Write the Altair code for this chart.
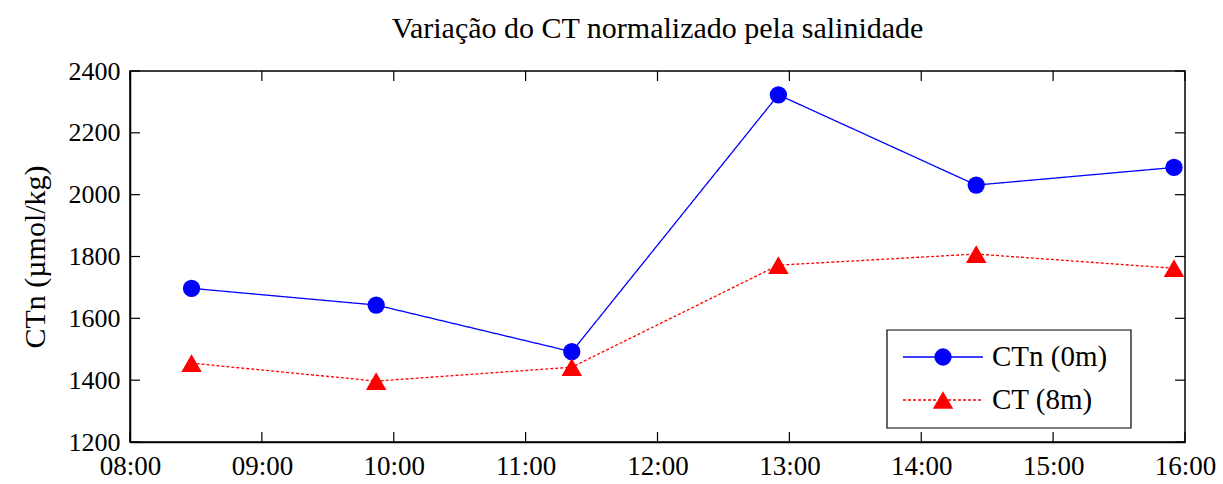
import altair as alt
import pandas as pd

# Sampling times and carbon values for the two depths
times = ["08:28", "09:52", "11:21", "12:55", "14:25", "15:55"]
ctn_0m = [1697, 1643, 1492, 2323, 2031, 2088]
ct_8m = [1455, 1397, 1442, 1772, 1808, 1762]

series_names = ["CTn (0m)", "CT (8m)"]
series_colors = ["#0000FF", "#FF0000"]
series_shapes = ["circle", "triangle-up"]
series_sizes = [300, 420]
series_dash = [[1, 0], [3, 2]]

x_ticks = [8, 9, 10, 11, 12, 13, 14, 15, 16]
y_ticks = [1200, 1400, 1600, 1800, 2000, 2200, 2400]

W, H = 1055, 371
FONT = "Liberation Serif"


def to_hours(t):
    h, m = t.split(":")
    return int(h) + int(m) / 60.0


rows = []
for name, vals in zip(series_names, [ctn_0m, ct_8m]):
    for t, v in zip(times, vals):
        rows.append({"series": name, "hour": to_hours(t), "value": v})
df = pd.DataFrame(rows)

x_scale = alt.Scale(domain=[8, 16], nice=False, zero=False)
y_scale = alt.Scale(domain=[1200, 2400], nice=False, zero=False)
color_scale = alt.Scale(domain=series_names, range=series_colors)
shape_scale = alt.Scale(domain=series_names, range=series_shapes)
size_scale = alt.Scale(domain=series_names, range=series_sizes)
dash_scale = alt.Scale(domain=series_names, range=series_dash)

x_axis = alt.Axis(
    values=x_ticks,
    labelExpr="(datum.value < 10 ? '0' : '') + datum.value + ':00'",
    title=None,
    labelPadding=11,
)
y_axis = alt.Axis(
    values=y_ticks,
    format="d",
    title="CTn (µmol/kg)",
    titlePadding=18,
    titleFontSize=30,
    labelPadding=10,
    labelFontSize=26,
)


def xq(field="hour"):
    return alt.X(f"{field}:Q", scale=x_scale, axis=x_axis)


def yq(field="value"):
    return alt.Y(f"{field}:Q", scale=y_scale, axis=y_axis)


base = alt.Chart(df)

lines = base.mark_line(strokeWidth=1.3).encode(
    x=xq(),
    y=yq(),
    color=alt.Color("series:N", scale=color_scale, legend=None),
    strokeDash=alt.StrokeDash("series:N", scale=dash_scale, legend=None),
    detail="series:N",
)

points = base.mark_point(filled=True, opacity=1).encode(
    x=xq(),
    y=yq(),
    color=alt.Color("series:N", scale=color_scale, legend=None),
    shape=alt.Shape("series:N", scale=shape_scale, legend=None),
    size=alt.Size("series:N", scale=size_scale, legend=None),
)

# Inward-pointing ticks on all four sides of the box
xt = pd.DataFrame({"hour": x_ticks})
yt = pd.DataFrame({"value": y_ticks})
tick_len = 10
tick_style = dict(color="#000", strokeWidth=1.2)
x_top = alt.Chart(xt).mark_rule(**tick_style).encode(
    x=xq(), y=alt.value(0), y2=alt.value(tick_len))
x_bot = alt.Chart(xt).mark_rule(**tick_style).encode(
    x=xq(), y=alt.value(H - tick_len), y2=alt.value(H))
y_left = alt.Chart(yt).mark_rule(**tick_style).encode(
    y=yq(), x=alt.value(0), x2=alt.value(tick_len))
y_right = alt.Chart(yt).mark_rule(**tick_style).encode(
    y=yq(), x=alt.value(W - tick_len), x2=alt.value(W))

# Legend box in the lower-right corner
one = pd.DataFrame({"k": [0]})
box = alt.Chart(one).mark_rect(fill="white", stroke="#000", strokeWidth=1.2).encode(
    x=alt.value(757), x2=alt.value(1001), y=alt.value(259), y2=alt.value(357))

legend_layers = [box]
row_y = [286, 329]
for name, col, shp, sz, dash, ry in zip(series_names, series_colors, series_shapes,
                                        series_sizes, series_dash, row_y):
    d = pd.DataFrame({"label": [name]})
    legend_layers.append(
        alt.Chart(d).mark_rule(color=col, strokeWidth=1.3, strokeDash=dash).encode(
            x=alt.value(773), x2=alt.value(853), y=alt.value(ry)))
    legend_layers.append(
        alt.Chart(d).mark_point(filled=True, size=sz, opacity=1, color=col, shape=shp).encode(
            x=alt.value(813), y=alt.value(ry)))
    legend_layers.append(
        alt.Chart(d).mark_text(align="left", baseline="middle", font=FONT, fontSize=29, color="#000").encode(
            x=alt.value(862), y=alt.value(ry), text="label:N"))

chart = alt.layer(
    lines, points, x_top, x_bot, y_left, y_right, *legend_layers
).properties(
    width=W,
    height=H,
    background="white",
    title=alt.TitleParams(
        "Variação do CT normalizado pela salinidade",
        font=FONT,
        fontSize=30,
        fontWeight="normal",
        color="#000",
        offset=14,
    ),
    autosize=alt.AutoSizeParams(type="none"),
    padding={"left": 130, "top": 71, "right": 38, "bottom": 42},
).configure_view(
    stroke="#000", strokeWidth=1.5
).configure_axis(
    domain=True,
    domainColor="#000",
    domainWidth=1.5,
    ticks=False,
    grid=False,
    labelFont=FONT,
    labelFontSize=27,
    labelColor="#000",
    labelFlush=False,
    titleFont=FONT,
    titleFontSize=27,
    titleFontWeight="normal",
    titleColor="#000",
)

chart.save("out.html", embed_options={"renderer": "svg", "actions": False})
